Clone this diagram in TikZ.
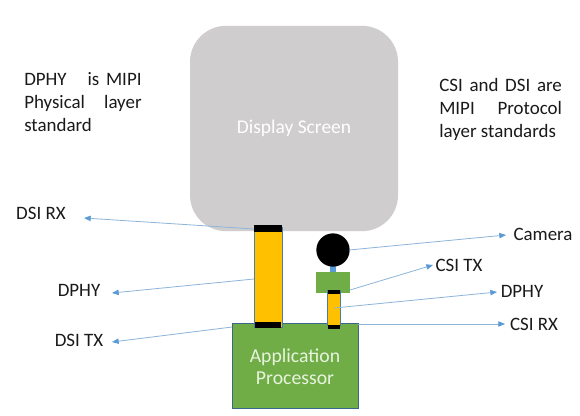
\documentclass[tikz,border=0pt]{standalone}
\usepackage{fontspec}
\setmainfont{Carlito}
\usetikzlibrary{arrows.meta}
\definecolor{scr}{HTML}{CFCDCD}
\definecolor{grn}{HTML}{70AD47}
\definecolor{yel}{HTML}{FFC000}
\definecolor{lin}{HTML}{8DB4D9}
\definecolor{tip}{HTML}{5B9BD5}
\definecolor{txt}{HTML}{1A1A1A}
\definecolor{aptxt}{HTML}{E8F3DE}
\newcommand{\jline}[1]{\makebox[\jw][s]{#1}}
\newlength{\jw}
\tikzset{
 x=0.75pt,y=-0.75pt,
 lbl/.style={font=\fontsize{14.2}{16}\selectfont,text=txt,inner sep=0pt},
 para/.style={font=\fontsize{14.2}{17}\selectfont,text=txt,inner sep=0pt,anchor=north west,align=left},
 arr/.style={draw=lin,line width=0.6pt,-{Triangle[length=5pt,width=4pt,fill=tip,color=tip]}},
 yelbar/.style={fill=yel,draw=tip!80!black,line width=0.4pt},
 blk/.style={fill=black,draw=none}
}
\begin{document}
\begin{tikzpicture}
\useasboundingbox (0,0) rectangle (580,416);
\fill[white] (0,0) rectangle (580,416);
\node[draw=none,fill=scr,rounded corners=27pt,minimum width=156pt,minimum height=154pt,inner sep=0pt] (screen) at (294,128.5) {};
\node[font=\fontsize{14.6}{17}\selectfont,text=white] (screenlabel) at (294,128) {Display Screen};
\node[fill=grn,draw=tip!65!black,line width=0.5pt,minimum width=94.5pt,minimum height=63.5pt,inner sep=0pt] (ap) at (295,365.5) {};
\node[font=\fontsize{14.8}{16.6}\selectfont,text=aptxt,align=center] (aplabel) at (295,367) {Application\\Processor};
\node[yelbar,minimum width=21pt,minimum height=75pt,inner sep=0pt] (dphy) at (268,277) {};
\node[blk,minimum width=21pt,minimum height=5pt,inner sep=0pt] (dsirx) at (268,228.5) {};
\node[blk,minimum width=20pt,minimum height=4.5pt,inner sep=0pt] (dsitx) at (268,325) {};
\node[fill=tip,minimum width=4.5pt,minimum height=9pt,inner sep=0pt] (stem) at (333,267) {};
\node[circle,fill=black,minimum size=25pt,inner sep=0pt] (cam) at (333,250) {};
\node[fill=grn,minimum width=26pt,minimum height=16pt,inner sep=0pt] (csitxbox) at (333,282.5) {};
\node[yelbar,minimum width=10pt,minimum height=26pt,inner sep=0pt] (sdphy) at (334,308) {};
\node[blk,minimum width=9.5pt,minimum height=3pt,inner sep=0pt] (stx) at (334,292) {};
\node[blk,minimum width=9pt,minimum height=2.6pt,inner sep=0pt] (srx) at (334,327) {};
\node[lbl] (lrx) at (41,213) {DSI RX};
\node[lbl] (ldphy) at (79,290) {DPHY};
\node[lbl] (ltx) at (79,340) {DSI TX};
\node[lbl] (lcam) at (543,234) {Camera};
\node[lbl] (lctx) at (459,265) {CSI TX};
\node[lbl] (lrd) at (522,291) {DPHY};
\node[lbl] (lcrx) at (534,324) {CSI RX};
\coordinate (a1) at (254,229);
\coordinate (a2) at (254,279);
\coordinate (a3) at (232,327);
\coordinate (a4) at (349,250);
\coordinate (a5) at (350,290);
\coordinate (a6) at (334,308);
\coordinate (a7) at (358,324);
\draw[arr] (a1) -- (84,218);
\draw[arr] (a2) -- (112,293);
\draw[arr] (a3) -- (112,342);
\draw[arr] (a4) -- (506,235);
\draw[arr] (a5) -- (433,265);
\draw[arr] (a6) -- (497,292);
\draw[arr] (a7) -- (505,324);
\setlength{\jw}{88pt}
\node[para] (pl) at (24,72.5) {\jline{DPHY \hspace{0.4em} is MIPI}\\\jline{Physical layer}\\standard};
\setlength{\jw}{92pt}
\node[para] (pr) at (439,78.5) {\jline{CSI and DSI are}\\\jline{MIPI Protocol}\\layer standards};
\end{tikzpicture}
\end{document}
